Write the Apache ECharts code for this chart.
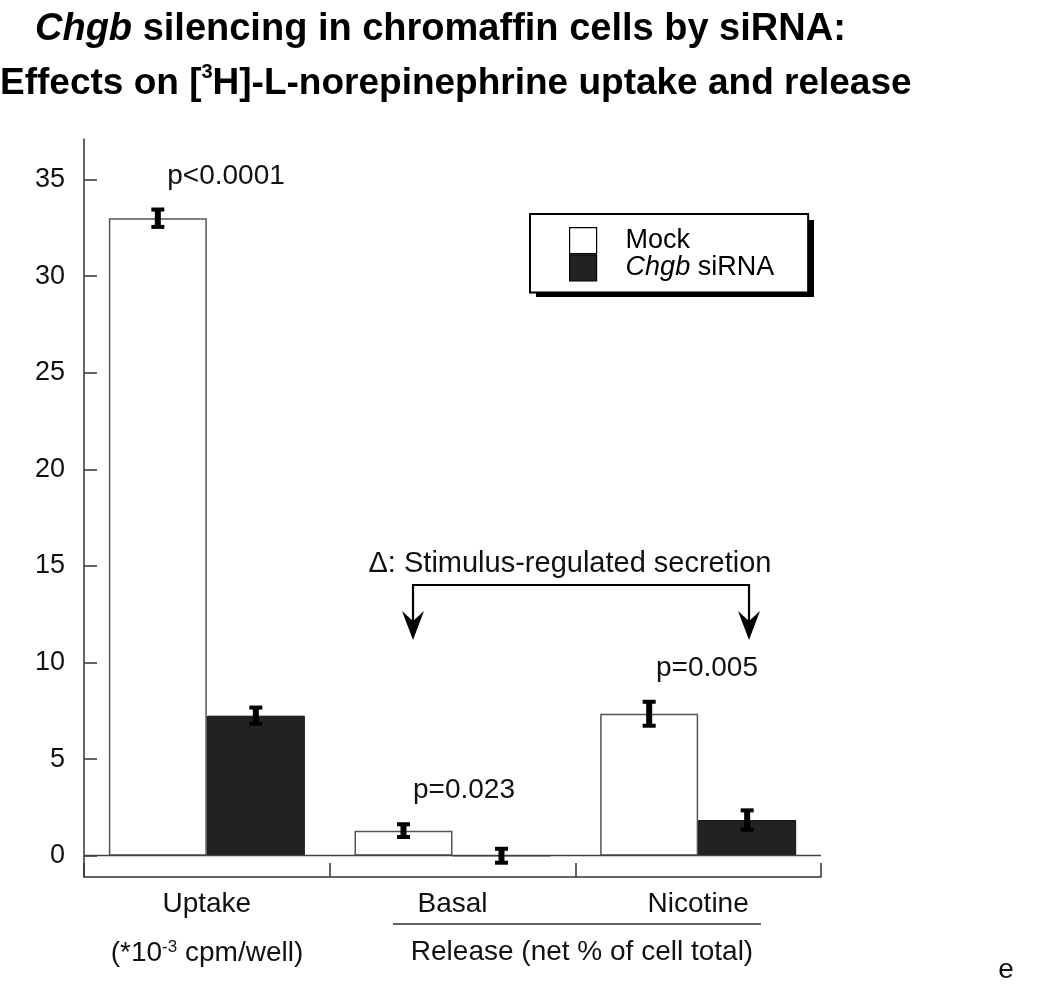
<!DOCTYPE html>
<html>
<head>
<meta charset="utf-8">
<script src="https://cdn.jsdelivr.net/npm/echarts@6/dist/echarts.min.js"></script>
<style>
  html, body { margin: 0; padding: 0; background: #fff; }
  #main { width: 1050px; height: 986px; }
</style>
</head>
<body>
<div id="main"></div>
<script>
// data
const categories = ['Uptake', 'Basal', 'Nicotine'];
const mockValues = [33.0, 1.3, 7.35];
const mockErrors = [0.45, 0.33, 0.62];
const sirnaValues = [7.25, 0, 1.85];
const sirnaErrors = [0.42, 0.36, 0.5];
const yTicks = [0, 5, 10, 15, 20, 25, 30, 35];

const FONT = "'Liberation Sans', Arial, sans-serif";
const BAR_WIDTH = 98;

let chart = echarts.init(document.getElementById('main'));

// I-beam error bars, side -1 = left bar (Mock), +1 = right bar (siRNA)
function errorBar(side) {
  return function (params, api) {
    const cat = api.value(0);
    const mean = api.value(1);
    const err = api.value(2);
    const hi = api.coord([cat, mean + err]);
    const lo = api.coord([cat, mean - err]);
    const x = hi[0] + side * BAR_WIDTH / 2;
    const black = { fill: '#000' };
    return {
      type: 'group',
      children: [
        { type: 'rect', shape: { x: x - 3, y: hi[1], width: 6, height: lo[1] - hi[1] }, style: black },
        { type: 'rect', shape: { x: x - 6.5, y: hi[1] - 2, width: 13, height: 4 }, style: black },
        { type: 'rect', shape: { x: x - 6.5, y: lo[1] - 2, width: 13, height: 4 }, style: black },
      ],
    };
  };
}

const text = (t, x, y, extra) => ({
  type: 'text',
  silent: true,
  style: Object.assign({ text: t, x: x, y: y, fill: '#111', font: '28px ' + FONT, align: 'center', verticalAlign: 'middle' }, extra || {}),
});

let option = {
  animation: false,
  title: [
    {
      text: '{i|Chgb} silencing in chromaffin cells by siRNA:',
      left: 35, top: 11, padding: 0,
      textStyle: {
        fontFamily: FONT, fontSize: 38, fontWeight: 'bold', color: '#000',
        rich: { i: { fontFamily: FONT, fontSize: 38, fontWeight: 'bold', fontStyle: 'italic', color: '#000' } },
      },
    },
    {
      text: 'Effects on [{sup|3}H]-L-norepinephrine uptake and release',
      left: 0, top: 62, padding: 0,
      textStyle: {
        fontFamily: FONT, fontSize: 37, fontWeight: 'bold', color: '#000', lineHeight: 44,
        rich: { sup: { fontFamily: FONT, fontSize: 20, color: '#000', verticalAlign: 'top', lineHeight: 20 } },
      },
    },
  ],
  legend: {
    data: ['Mock', 'Chgb siRNA'],
    orient: 'vertical',
    left: 530, top: 214,
    z: 4,
    padding: [13, 34, 11, 39],
    itemGap: 0,
    itemWidth: 27,
    itemHeight: 26,
    icon: 'rect',
    backgroundColor: '#fff',
    borderColor: '#000',
    borderWidth: 2,
    itemStyle: { borderColor: '#000', borderWidth: 1.2 },
    formatter: (name) => name === 'Chgb siRNA' ? '{i|Chgb} siRNA' : name,
    textStyle: {
      fontFamily: FONT, fontSize: 27, color: '#000', lineHeight: 26, padding: [0, 0, 0, 24],
      rich: { i: { fontFamily: FONT, fontSize: 27, fontStyle: 'italic', color: '#000', lineHeight: 26 } },
    },
  },
  grid: { left: 84, right: 229, top: 139, bottom: 109, outerBoundsMode: 'none' },
  xAxis: {
    type: 'category',
    data: categories,
    boundaryGap: true,
    axisLine: { onZero: false, lineStyle: { color: '#333', width: 1.5 } },
    axisTick: { show: true, inside: true, alignWithLabel: false, length: 14, interval: 0, lineStyle: { color: '#333', width: 1.5 } },
    axisLabel: { fontFamily: FONT, fontSize: 28, color: '#111', margin: 13, interval: 0 },
  },
  yAxis: {
    type: 'value',
    min: -1.1,
    max: 37.1,
    splitLine: { show: false },
    axisLine: { show: true, lineStyle: { color: '#333', width: 1.5 } },
    axisTick: { show: true, inside: true, length: 13, customValues: yTicks, lineStyle: { color: '#333', width: 1.5 } },
    axisLabel: { fontFamily: FONT, fontSize: 27, color: '#111', margin: 19, customValues: yTicks },
  },
  series: [
    {
      name: 'Mock',
      type: 'bar',
      data: mockValues,
      barWidth: BAR_WIDTH,
      barGap: '0%',
      itemStyle: { color: '#fff', borderColor: '#555', borderWidth: 1.5 },
      markLine: {
        silent: true,
        symbol: 'none',
        label: { show: false },
        lineStyle: { color: '#444', width: 1.3, type: 'solid' },
        data: [{ yAxis: 0 }],
      },
    },
    {
      name: 'Chgb siRNA',
      type: 'bar',
      data: sirnaValues,
      barWidth: BAR_WIDTH,
      barGap: '0%',
      itemStyle: { color: '#222', borderColor: '#111', borderWidth: 1 },
    },
    {
      type: 'custom',
      renderItem: errorBar(-1),
      encode: { x: 0, y: 1 },
      z: 5,
      data: categories.map((c, i) => [i, mockValues[i], mockErrors[i]]),
    },
    {
      type: 'custom',
      renderItem: errorBar(1),
      encode: { x: 0, y: 1 },
      z: 5,
      data: categories.map((c, i) => [i, sirnaValues[i], sirnaErrors[i]]),
    },
  ],
  graphic: [
    // drop shadow behind the legend box
    { type: 'rect', silent: true, z: 1, shape: { x: 536, y: 220, width: 278, height: 77 }, style: { fill: '#000' } },
    text('p<0.0001', 226, 176),
    text('p=0.023', 464, 790),
    text('p=0.005', 707, 668),
    text('\u0394: Stimulus-regulated secretion', 570, 564, { font: '29px ' + FONT }),
    {
      type: 'text', silent: true,
      style: {
        text: '(*10{sup|-3} cpm/well)', x: 207, y: 953, fill: '#111', font: '28px ' + FONT,
        align: 'center', verticalAlign: 'middle',
        rich: { sup: { fontSize: 17, fontFamily: FONT, fill: '#111', verticalAlign: 'top' } },
      },
    },
    text('Release (net % of cell total)', 582, 952),
    text('e', 1006, 970),
    // underline that groups Basal and Nicotine
    { type: 'line', silent: true, shape: { x1: 393, y1: 924, x2: 761, y2: 924 }, style: { stroke: '#333', lineWidth: 1.5 } },
    // bracket with two arrows
    { type: 'polyline', silent: true, shape: { points: [[413, 626], [413, 585], [749, 585], [749, 626]] }, style: { stroke: '#000', lineWidth: 2.2, fill: null } },
    { type: 'polygon', silent: true, shape: { points: [[413, 640], [402, 611], [413, 621], [424, 611]] }, style: { fill: '#000' } },
    { type: 'polygon', silent: true, shape: { points: [[749, 640], [738, 611], [749, 621], [760, 611]] }, style: { fill: '#000' } },
  ],
};

option && chart.setOption(option);
</script>
</body>
</html>
